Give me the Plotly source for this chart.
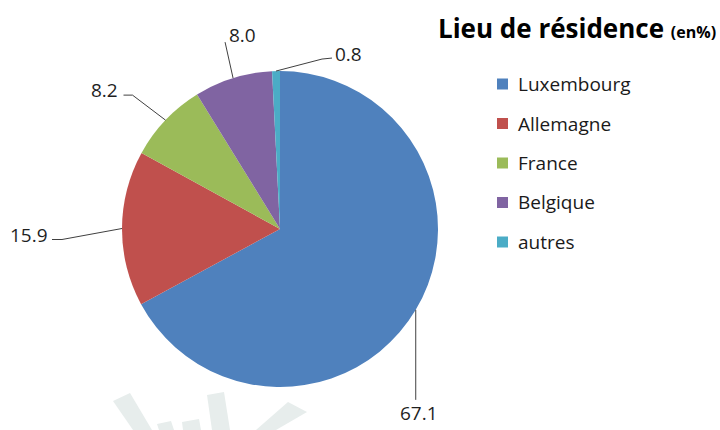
import math
import plotly.graph_objects as go

# ---- data ----
categories = ["Luxembourg", "Allemagne", "France", "Belgique", "autres"]
values = [67.1, 15.9, 8.2, 8.0, 0.8]
value_labels = ["67.1", "15.9", "8.2", "8.0", "0.8"]
colors = ["#4F81BD", "#C0504D", "#9BBB59", "#8064A2", "#4BACC6"]
title_main = "Lieu de résidence"
title_unit = "(en%)"

# the page body margin is removed (see post_script), figure fills the window
W, H = 720, 430
FONT = "Open Sans"

def px(x, y):
    """window pixel -> paper coordinate"""
    return x / W, 1 - y / H

# pie placement (window pixels)
cx, cy, R = 280, 229, 158
x0d, y1d = px(cx - R, cy + R)
x1d, y0d = px(cx + R, cy - R)

fig = go.Figure(go.Pie(
    labels=categories, values=values, sort=False, direction="clockwise",
    rotation=0, marker=dict(colors=colors, line=dict(width=0)),
    textinfo="none", hoverinfo="label+value", showlegend=False,
    domain=dict(x=[x0d, x1d], y=[y1d, y0d]),
))

def path_of(points, close=False):
    s = "M " + " L ".join("{:.5f},{:.5f}".format(*px(x, y)) for x, y in points)
    return s + (" Z" if close else "")

shapes = []
annotations = []

# watermark decoration (faint)
wm_polys = [
    [(113, 401), (130, 393), (152, 430), (133, 430)],
    [(157, 424), (171, 421), (174, 430), (159, 430)],
    [(182, 422), (199, 419), (201, 430), (183, 430)],
    [(207, 395), (224, 392), (230, 430), (212, 430)],
    [(288, 402), (307, 412), (276, 430), (256, 430)],
]
for poly in wm_polys:
    shapes.append(dict(type="path", xref="paper", yref="paper",
                       path=path_of(poly, True),
                       fillcolor="#E7EDEC", line=dict(width=0), layer="below"))

# leader line offsets (relative to slice edge point) and text offsets
leader_pts = [
    [(0, 0), (0, 90)],
    [(0, 0), (-60, 11), (-70, 11)],
    [(0, 0), (-33, -25), (-42, -25)],
    [(0, 0), (-8, -36)],
    [(0, 0), (46, -12), (56, -13)],
]
text_off = [(3, 103), (-93, 6), (-61, -30), (9, -43), (72, -17)]

total = sum(values)
cum = 0.0
for i, v in enumerate(values):
    mid = 2 * math.pi * (cum + v / 2) / total
    cum += v
    ex = cx + R * math.sin(mid)
    ey = cy - R * math.cos(mid)
    pts = [(ex + dx, ey + dy) for dx, dy in leader_pts[i]]
    shapes.append(dict(type="path", xref="paper", yref="paper",
                       path=path_of(pts),
                       line=dict(color="#404040", width=1)))
    tx, ty = px(ex + text_off[i][0], ey + text_off[i][1])
    annotations.append(dict(x=tx, y=ty, xref="paper", yref="paper",
                            text=value_labels[i], showarrow=False,
                            xanchor="center", yanchor="middle",
                            font=dict(family=FONT, size=19, color="#1f1f1f")))

# title
tx, ty = px(718, 28)
annotations.append(dict(
    x=tx, y=ty, xref="paper", yref="paper", showarrow=False,
    xanchor="right", yanchor="middle",
    text=f"<b>{title_main}</b> <b><span style='font-size:16px'>{title_unit}</span></b>",
    font=dict(family=FONT, size=26, color="#000000")))

# legend (manual)
leg_x0, leg_y0, leg_step, sq = 497, 84, 39.5, 11
for i, (cat, col) in enumerate(zip(categories, colors)):
    yc = leg_y0 + i * leg_step
    ax0, ay0 = px(leg_x0, yc + sq / 2)
    ax1, ay1 = px(leg_x0 + sq, yc - sq / 2)
    shapes.append(dict(type="rect", xref="paper", yref="paper",
                       x0=ax0, x1=ax1, y0=ay0, y1=ay1, fillcolor=col,
                       line=dict(width=0)))
    lx, ly = px(leg_x0 + 19, yc)
    annotations.append(dict(x=lx, y=ly, xref="paper", yref="paper",
                            text=cat, showarrow=False, xanchor="left",
                            yanchor="middle",
                            font=dict(family=FONT, size=19, color="#1a1a1a")))

fig.update_layout(
    width=W, height=H, margin=dict(l=0, r=0, t=0, b=0),
    paper_bgcolor="white", plot_bgcolor="white",
    shapes=shapes, annotations=annotations, showlegend=False,
)

fig.write_html(
    "out.html",
    config={"displayModeBar": False},
    post_script="document.body.style.margin='0';document.body.style.overflow='hidden';",
)
